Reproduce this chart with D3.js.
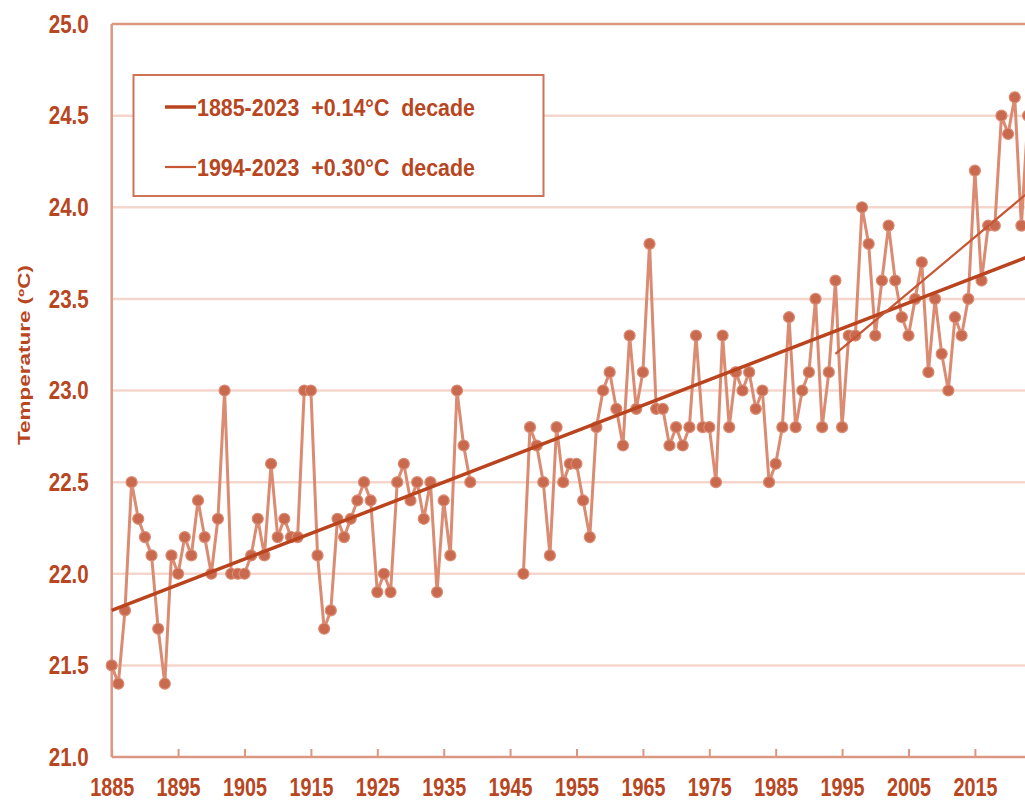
<!DOCTYPE html>
<html>
<head>
<meta charset="utf-8">
<script src="https://cdn.jsdelivr.net/npm/d3@7"></script>
<style>
  body { margin: 0; background: #fff; }
  text { font-family: "Liberation Sans", Arial, sans-serif; }
</style>
</head>
<body>
<div id="chart"></div>
<script>
// annual mean temperature, 1885-2023 (null = missing years)
const firstYear = 1885;
const temps = [
  21.5, 21.4, 21.8, 22.5, 22.3, 22.2, 22.1, 21.7, 21.4, 22.1, // 1885-1894
  22.0, 22.2, 22.1, 22.4, 22.2, 22.0, 22.3, 23.0, 22.0, 22.0, // 1895-1904
  22.0, 22.1, 22.3, 22.1, 22.6, 22.2, 22.3, 22.2, 22.2, 23.0, // 1905-1914
  23.0, 22.1, 21.7, 21.8, 22.3, 22.2, 22.3, 22.4, 22.5, 22.4, // 1915-1924
  21.9, 22.0, 21.9, 22.5, 22.6, 22.4, 22.5, 22.3, 22.5, 21.9, // 1925-1934
  22.4, 22.1, 23.0, 22.7, 22.5, null, null, null, null, null, // 1935-1944
  null, null, 22.0, 22.8, 22.7, 22.5, 22.1, 22.8, 22.5, 22.6, // 1945-1954
  22.6, 22.4, 22.2, 22.8, 23.0, 23.1, 22.9, 22.7, 23.3, 22.9, // 1955-1964
  23.1, 23.8, 22.9, 22.9, 22.7, 22.8, 22.7, 22.8, 23.3, 22.8, // 1965-1974
  22.8, 22.5, 23.3, 22.8, 23.1, 23.0, 23.1, 22.9, 23.0, 22.5, // 1975-1984
  22.6, 22.8, 23.4, 22.8, 23.0, 23.1, 23.5, 22.8, 23.1, 23.6, // 1985-1994
  22.8, 23.3, 23.3, 24.0, 23.8, 23.3, 23.6, 23.9, 23.6, 23.4, // 1995-2004
  23.3, 23.5, 23.7, 23.1, 23.5, 23.2, 23.0, 23.4, 23.3, 23.5, // 2005-2014
  24.2, 23.6, 23.9, 23.9, 24.5, 24.4, 24.6, 23.9, 24.5        // 2015-2023
];
const years = temps.map((_, i) => firstYear + i);

// linear trends (start / end points)
const trendLong = [[1885, 21.8], [2023, 23.73]];
const trendRecent = [[1994, 23.2], [2023, 24.08]];

const legendLabels = ['1885-2023  +0.14°C  decade', '1994-2023  +0.30°C  decade'];
const xTicks = [1885, 1895, 1905, 1915, 1925, 1935, 1945, 1955, 1965, 1975, 1985, 1995, 2005, 2015];
const yTicks = [21.0, 21.5, 22.0, 22.5, 23.0, 23.5, 24.0, 24.5, 25.0];

const width = 1025;
const height = 802;
const margin = { top: 24, left: 111.7, bottom: 45 };

const textColor = '#b8461f';
const axisColor = '#dc9783';
const gridColor = '#f4d6cc';

const svg = d3.select('#chart')
  .append('svg')
  .attr('width', width)
  .attr('height', height);

const xScale = d3.scaleLinear()
  .domain([1885, 2025])
  .range([margin.left, margin.left + 140 * 6.64]);

const yScale = d3.scaleLinear()
  .domain([21, 25])
  .range([height - margin.bottom, margin.top]);

// grid lines
svg.append('g')
  .selectAll('line')
  .data(yTicks.filter(t => t > 21 && t < 25))
  .enter()
  .append('line')
  .attr('x1', margin.left)
  .attr('x2', width)
  .attr('y1', d => yScale(d))
  .attr('y2', d => yScale(d))
  .attr('stroke', gridColor)
  .attr('stroke-width', 2.5);

// top border
svg.append('line')
  .attr('x1', margin.left).attr('x2', width)
  .attr('y1', yScale(25)).attr('y2', yScale(25))
  .attr('stroke', axisColor).attr('stroke-width', 2.5);

// x axis
const xAxis = d3.axisBottom(xScale)
  .tickValues(xTicks)
  .tickSize(-8)
  .tickPadding(21)
  .tickFormat(d3.format('d'));

const gx = svg.append('g')
  .attr('transform', `translate(0, ${yScale(21)})`)
  .call(xAxis);
gx.select('.domain').remove();
gx.append('line')
  .attr('x1', margin.left).attr('x2', width)
  .attr('stroke', axisColor).attr('stroke-width', 2.5);
gx.selectAll('.tick line').attr('stroke', axisColor).attr('stroke-width', 2);
gx.selectAll('.tick text')
  .attr('fill', textColor)
  .attr('font-size', 25)
  .attr('font-weight', 'bold')
  .attr('font-family', '"Liberation Sans", Arial, sans-serif')
  .attr('textLength', 44)
  .attr('lengthAdjust', 'spacingAndGlyphs');

// y axis
const yAxis = d3.axisLeft(yScale)
  .tickValues(yTicks)
  .tickSize(0)
  .tickPadding(23)
  .tickFormat(d3.format('.1f'));

const gy = svg.append('g')
  .attr('transform', `translate(${margin.left}, 0)`)
  .call(yAxis);
gy.select('.domain').remove();
gy.append('line')
  .attr('y1', yScale(21)).attr('y2', yScale(25))
  .attr('stroke', axisColor).attr('stroke-width', 2.5);
gy.selectAll('.tick text')
  .attr('fill', textColor)
  .attr('font-size', 26)
  .attr('font-weight', 'bold')
  .attr('font-family', '"Liberation Sans", Arial, sans-serif')
  .attr('textLength', 40)
  .attr('lengthAdjust', 'spacingAndGlyphs');

svg.append('text')
  .attr('transform', `translate(30, 355) rotate(-90)`)
  .attr('text-anchor', 'middle')
  .attr('fill', textColor)
  .attr('font-size', 16)
  .attr('font-weight', 'bold')
  .attr('textLength', 180)
  .attr('lengthAdjust', 'spacingAndGlyphs')
  .text('Temperature (ºC)');

// data series
const data = years.map((y, i) => ({ year: y, value: temps[i] }));

const line = d3.line()
  .defined(d => d.value !== null)
  .x(d => xScale(d.year))
  .y(d => yScale(d.value));

svg.append('path')
  .datum(data)
  .attr('d', line)
  .attr('fill', 'none')
  .attr('stroke', '#da8b72')
  .attr('stroke-width', 3);

svg.append('g')
  .selectAll('circle')
  .data(data.filter(d => d.value !== null))
  .enter()
  .append('circle')
  .attr('cx', d => xScale(d.year))
  .attr('cy', d => yScale(d.value))
  .attr('r', 5.5)
  .attr('fill', '#c96a4f')
  .attr('stroke', '#da8c74')
  .attr('stroke-width', 1.2);

// trend lines
const trendLine = d3.line()
  .x(d => xScale(d[0]))
  .y(d => yScale(d[1]));

svg.append('path')
  .attr('d', trendLine(trendLong))
  .attr('fill', 'none')
  .attr('stroke', '#b9441e')
  .attr('stroke-width', 3.5);

svg.append('path')
  .attr('d', trendLine(trendRecent))
  .attr('fill', 'none')
  .attr('stroke', '#c65634')
  .attr('stroke-width', 2.2);

// legend
const legend = svg.append('g');
legend.append('rect')
  .attr('x', 133.5).attr('y', 75)
  .attr('width', 410).attr('height', 121)
  .attr('fill', '#fff')
  .attr('stroke', '#cf7258')
  .attr('stroke-width', 2);

const legendWidths = [3.5, 2.2];
const legendColors = ['#b9441e', '#c65634'];
legendLabels.forEach((label, i) => {
  const ly = 107 + i * 60;
  legend.append('line')
    .attr('x1', 165).attr('x2', 196)
    .attr('y1', ly).attr('y2', ly)
    .attr('stroke', legendColors[i])
    .attr('stroke-width', legendWidths[i]);
  legend.append('text')
    .attr('x', 197)
    .attr('y', ly + 9)
    .attr('fill', textColor)
    .attr('font-size', 23)
    .attr('font-weight', 'bold')
    .attr('textLength', 278)
    .attr('lengthAdjust', 'spacingAndGlyphs')
    .style('white-space', 'pre')
    .text(label);
});
</script>
</body>
</html>
